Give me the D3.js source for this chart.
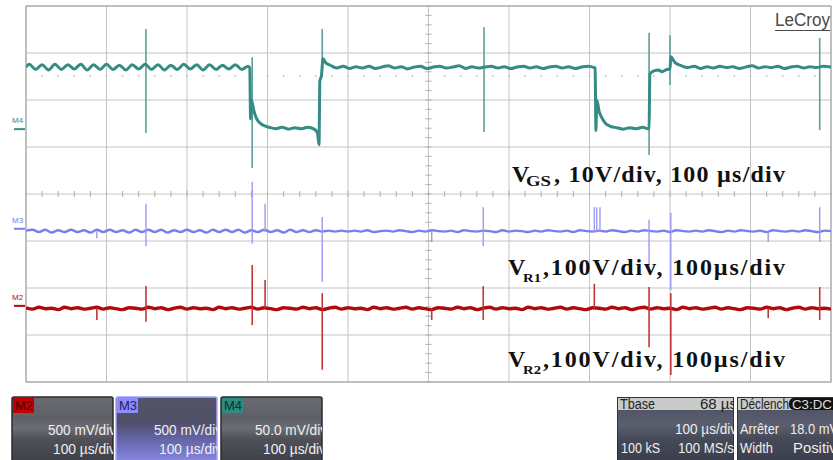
<!DOCTYPE html>
<html>
<head>
<meta charset="utf-8">
<script src="https://cdn.jsdelivr.net/npm/d3@7"></script>
<style>
  body { margin: 0; background: #fff; }
  svg { display: block; }
</style>
</head>
<body>
<div id="chart"></div>
<script>
// screen: 10 x 100 µs horizontally, 8 divisions vertically
const timeRange = [0, 1000];
const divRange = [-4, 4];

// M4 (V_GS) trace, [µs, div]
const m4Trace = [
  [0, 2.70], [4, 2.76], [12, 2.65], [20, 2.75], [28, 2.64], [36, 2.76], [44, 2.65], [52, 2.75],
  [60, 2.66], [68, 2.76], [76, 2.64], [84, 2.75], [92, 2.65], [100, 2.76], [108, 2.65], [116, 2.74],
  [124, 2.64], [132, 2.75], [140, 2.66], [148, 2.76], [156, 2.65], [164, 2.75], [172, 2.64], [180, 2.74],
  [188, 2.65], [196, 2.76], [204, 2.66], [212, 2.75], [220, 2.64], [228, 2.75], [236, 2.65], [244, 2.74],
  [252, 2.66], [260, 2.75], [268, 2.65], [276, 2.72],
  [278, 2.68], [279, 1.60], [280, 2.00], [283, 1.78], [286, 1.62], [290, 1.52], [295, 1.46], [302, 1.42],
  [310, 1.39], [318, 1.42], [326, 1.38], [334, 1.41], [342, 1.39], [350, 1.42], [358, 1.38], [362, 1.30],
  [364, 1.05], [365, 2.40], [367, 2.52], [369, 2.88], [372, 2.80], [378, 2.74], [386, 2.68],
  [394, 2.72], [402, 2.67], [410, 2.71], [418, 2.68], [426, 2.72], [434, 2.67], [442, 2.70], [450, 2.73],
  [458, 2.68], [466, 2.71], [474, 2.66], [482, 2.70], [490, 2.72], [498, 2.67], [506, 2.70], [514, 2.72],
  [522, 2.68], [530, 2.70], [538, 2.73], [546, 2.67], [554, 2.71], [562, 2.68], [570, 2.70], [578, 2.72],
  [586, 2.68], [594, 2.71], [602, 2.67], [610, 2.70], [618, 2.72], [626, 2.68], [634, 2.71], [642, 2.67],
  [650, 2.70], [658, 2.72], [666, 2.68], [674, 2.71], [682, 2.67], [690, 2.70], [698, 2.72], [706, 2.69],
  [707, 2.68], [708, 1.35], [709, 2.00], [712, 1.76], [716, 1.60], [720, 1.50], [726, 1.44], [734, 1.41],
  [742, 1.38], [750, 1.41], [758, 1.39], [766, 1.42], [772, 1.39],
  [774, 1.40], [775, 2.55], [780, 2.62], [786, 2.64], [790, 2.60], [796, 2.65], [800, 2.66], [801, 2.92],
  [806, 2.80], [814, 2.73], [822, 2.69], [830, 2.72], [838, 2.67], [846, 2.71], [854, 2.68], [862, 2.72],
  [870, 2.69], [878, 2.71], [886, 2.67], [894, 2.70], [902, 2.73], [910, 2.68], [918, 2.71], [926, 2.69],
  [934, 2.72], [942, 2.67], [950, 2.70], [958, 2.72], [966, 2.68], [974, 2.71], [982, 2.69], [990, 2.72],
  [1000, 2.70]
];
// spikes [µs, top div, bottom div]
const m4Spikes = [
  [149, 3.51, 1.30], [281, 2.91, 0.55], [368, 3.51, 2.50], [569, 3.55, 1.32],
  [774, 3.43, 0.83], [800, 3.38, 2.32], [986, 3.32, 1.36]
];

// M3 (V_R1) and M2 (V_R2) sampled every 8 µs
const sampleStep = 8;
const m3Values = [
  -0.78, -0.76, -0.81, -0.76, -0.82, -0.77, -0.81, -0.76, -0.81, -0.77,
  -0.82, -0.76, -0.81, -0.76, -0.81, -0.77, -0.82, -0.76, -0.81, -0.76,
  -0.81, -0.76, -0.82, -0.77, -0.81, -0.76, -0.81, -0.77, -0.82, -0.76,
  -0.81, -0.76, -0.81, -0.76, -0.82, -0.77, -0.81, -0.76, -0.81, -0.77,
  -0.82, -0.76, -0.81, -0.77, -0.81, -0.77, -0.80, -0.78, -0.80, -0.78,
  -0.80,
  -0.78, -0.80, -0.77, -0.81, -0.79, -0.78, -0.80, -0.77, -0.79, -0.81,
  -0.78, -0.80, -0.77, -0.79, -0.80, -0.78, -0.81, -0.77, -0.79, -0.80,
  -0.78, -0.79, -0.81, -0.77, -0.80, -0.78, -0.79, -0.81, -0.78, -0.80,
  -0.77, -0.79, -0.80, -0.78, -0.81, -0.77, -0.79, -0.80, -0.78, -0.80,
  -0.77, -0.79, -0.81, -0.78, -0.80, -0.77, -0.79, -0.80, -0.78, -0.81,
  -0.77, -0.79, -0.80, -0.78, -0.80, -0.77, -0.79, -0.81, -0.78, -0.80,
  -0.77, -0.79, -0.80, -0.78, -0.81, -0.77, -0.79, -0.80, -0.78, -0.80,
  -0.77, -0.79, -0.81, -0.78, -0.79
];
const m3Spikes = [
  [88, -0.79, -0.94], [149, -0.21, -1.11], [281, 0.26, -1.06], [297, -0.21, -0.81],
  [368, -0.49, -1.87], [504, -0.79, -1.02], [568, -0.28, -1.11], [706, -0.28, -0.81],
  [709, -0.28, -0.81], [713, -0.28, -0.81], [774, -0.55, -1.62], [801, -0.40, -2.04],
  [922, -0.79, -1.02], [986, -0.28, -1.02]
];
const m2Values = [
  -2.42, -2.45, -2.41, -2.44, -2.43, -2.46, -2.41, -2.44, -2.42, -2.45,
  -2.43, -2.41, -2.45, -2.42, -2.44, -2.46, -2.42, -2.43, -2.45, -2.41,
  -2.44, -2.42, -2.46, -2.43, -2.41, -2.45, -2.42, -2.44, -2.43, -2.46,
  -2.41, -2.44, -2.42, -2.45, -2.43, -2.41, -2.45, -2.42, -2.44, -2.46,
  -2.42, -2.43, -2.45, -2.41, -2.44, -2.42, -2.46, -2.43, -2.41, -2.45,
  -2.42, -2.44, -2.43, -2.46, -2.41, -2.44, -2.42, -2.45, -2.43, -2.41,
  -2.45, -2.42, -2.44, -2.46, -2.42, -2.43, -2.45, -2.41, -2.44, -2.42,
  -2.46, -2.43, -2.41, -2.45, -2.42, -2.44, -2.43, -2.46, -2.41, -2.44,
  -2.42, -2.45, -2.43, -2.41, -2.45, -2.42, -2.44, -2.46, -2.42, -2.43,
  -2.45, -2.41, -2.44, -2.42, -2.46, -2.43, -2.41, -2.45, -2.42, -2.44,
  -2.43, -2.46, -2.41, -2.44, -2.42, -2.45, -2.43, -2.41, -2.45, -2.42,
  -2.44, -2.46, -2.42, -2.43, -2.45, -2.41, -2.44, -2.42, -2.46, -2.43,
  -2.41, -2.45, -2.42, -2.44, -2.43, -2.45
];
const m2Spikes = [
  [88, -2.43, -2.68], [149, -1.96, -2.72], [281, -1.51, -2.79], [297, -1.83, -2.43],
  [368, -2.11, -3.74], [504, -2.43, -2.68], [568, -1.96, -2.68], [706, -1.91, -2.43],
  [774, -1.98, -3.26], [801, -2.11, -3.85], [922, -2.43, -2.64], [986, -1.98, -2.68]
];

// channel markers on the left edge (div)
const markerNames = ['M4', 'M3', 'M2'];
const markerLevels = [1.38, -0.74, -2.38];
// trigger level dotted line (div)
const triggerLevel = 2.51;

// annotations
const noteMain = ['V', 'V', 'V'];
const noteSub = ['GS', 'R1', 'R2'];
const noteRest = [', 10V/div,  100 µs/div', ',100V/div, 100µs/div', ',100V/div, 100µs/div'];

// descriptor boxes
const chanNames = ['M2', 'M3', 'M4'];
const chanScale = ['500 mV/div', '500 mV/div', '50.0 mV/div'];
const chanTime = ['100 µs/div', '100 µs/div', '100 µs/div'];
const tbaseRows = ['Tbase', '68 µs', '100 µs/div', '100 kS', '100 MS/s'];
const trigRows = ['Déclench', 'C3:DC', 'Arrêter', '18.0 mV', 'Width', 'Positive'];

const W = 833, H = 460;
const plot = { left: 26, right: 831, top: 6, bottom: 382 };
const colors = { m4: '#358c85', m4s: '#5d9f9a', m3: '#7c7cf0', m3s: '#9a9af4', m2: '#b00a0a', m2s: '#c03636' };

const svg = d3.select('#chart').append('svg').attr('width', W).attr('height', H);
svg.append('rect').attr('width', W).attr('height', H).attr('fill', '#fff');

const x = d3.scaleLinear().domain(timeRange).range([plot.left, plot.right]);
const y = d3.scaleLinear().domain(divRange).range([plot.bottom, plot.top]);

const defs = svg.append('defs');
defs.append('clipPath').attr('id', 'plotClip').append('rect')
  .attr('x', plot.left).attr('y', plot.top)
  .attr('width', plot.right - plot.left).attr('height', plot.bottom - plot.top);

function grad(id, stops) {
  const g = defs.append('linearGradient').attr('id', id)
    .attr('x1', 0).attr('y1', 0).attr('x2', 0).attr('y2', 1);
  stops.forEach(s => g.append('stop').attr('offset', s[0]).attr('stop-color', s[1]));
}
grad('boxGrad', [[0, '#6a6a72'], [0.3, '#5f5f67'], [0.45, '#6c6c74'], [0.6, '#505058'], [1, '#3c3c44']]);
grad('boxGradSel', [[0, '#55556a'], [0.35, '#4e4e66'], [0.6, '#6464a8'], [1, '#9090ee']]);
grad('infoGrad', [[0, '#4a4e5e'], [0.4, '#5a5e6e'], [0.6, '#464a58'], [1, '#383b48']]);

// grid
const grid = svg.append('g');
grid.selectAll('.vg').data(d3.range(0, 1001, 100)).join('line')
  .attr('x1', d => x(d)).attr('x2', d => x(d))
  .attr('y1', plot.top).attr('y2', plot.bottom)
  .attr('stroke', '#c4c4c4').attr('stroke-width', 1);
grid.selectAll('.hg').data(d3.range(-4, 4.01, 1)).join('line')
  .attr('x1', plot.left).attr('x2', plot.right)
  .attr('y1', d => y(d)).attr('y2', d => y(d))
  .attr('stroke', '#c4c4c4').attr('stroke-width', 1);
grid.append('rect')
  .attr('x', plot.left).attr('y', plot.top)
  .attr('width', plot.right - plot.left).attr('height', plot.bottom - plot.top)
  .attr('fill', 'none').attr('stroke', '#a8a8a8').attr('stroke-width', 1.2);

// minor ticks on centre axes
grid.selectAll('.tx').data(d3.range(0, 1001, 20)).join('line')
  .attr('x1', d => x(d)).attr('x2', d => x(d))
  .attr('y1', y(0) - 3).attr('y2', y(0) + 3)
  .attr('stroke', '#b0b0b0');
grid.selectAll('.ty').data(d3.range(-4, 4.01, 0.2)).join('line')
  .attr('x1', x(500) - 3).attr('x2', x(500) + 3)
  .attr('y1', d => y(d)).attr('y2', d => y(d))
  .attr('stroke', '#b0b0b0');

// trigger level dots
grid.selectAll('.dot').data(d3.range(20, 1000, 20)).join('rect')
  .attr('x', d => x(d) - 0.75).attr('y', y(triggerLevel) - 0.75)
  .attr('width', 1.5).attr('height', 1.5).attr('fill', '#b8b8b8');

// traces
const traces = svg.append('g').attr('clip-path', 'url(#plotClip)');
const line = d3.line().x(d => x(d[0])).y(d => y(d[1])).curve(d3.curveMonotoneX);
const sampled = vals => vals.map((v, i) => [i * sampleStep, v]);

function spikes(data, color, w) {
  traces.append('g').selectAll('line').data(data).join('line')
    .attr('x1', d => x(d[0])).attr('x2', d => x(d[0]))
    .attr('y1', d => y(d[1])).attr('y2', d => y(d[2]))
    .attr('stroke', color).attr('stroke-width', w);
}

traces.append('path').datum(sampled(m2Values)).attr('d', line)
  .attr('fill', 'none').attr('stroke', colors.m2).attr('stroke-width', 3.4).attr('stroke-linejoin', 'round');
spikes(m2Spikes, colors.m2s, 1.6);

traces.append('path').datum(sampled(m3Values)).attr('d', line)
  .attr('fill', 'none').attr('stroke', colors.m3).attr('stroke-width', 2.4).attr('stroke-linejoin', 'round');
spikes(m3Spikes, colors.m3s, 1.4);

spikes(m4Spikes, colors.m4s, 1.6);
traces.append('path').datum(m4Trace).attr('d', line)
  .attr('fill', 'none').attr('stroke', colors.m4).attr('stroke-width', 3).attr('stroke-linejoin', 'round');

// channel markers
const markColors = [colors.m4, colors.m3, colors.m2];
const marks = svg.append('g');
markerNames.forEach((name, i) => {
  const yy = y(markerLevels[i]);
  marks.append('line').attr('x1', 14).attr('x2', 25).attr('y1', yy).attr('y2', yy)
    .attr('stroke', markColors[i]).attr('stroke-width', 2);
  marks.append('text').attr('x', 12).attr('y', yy - 6).text(name)
    .attr('font-family', 'Liberation Sans Narrow, Liberation Sans, sans-serif')
    .attr('font-size', 8).attr('fill', markColors[i]);
});

// LeCroy logo
svg.append('text').attr('x', 775).attr('y', 26).text('LeCroy')
  .attr('font-family', 'Liberation Sans Narrow, Liberation Sans, sans-serif')
  .attr('font-size', 18).attr('fill', '#4a4a4a')
  .attr('textLength', 55).attr('lengthAdjust', 'spacingAndGlyphs');
svg.append('line').attr('x1', 775).attr('x2', 830).attr('y1', 30.5).attr('y2', 30.5)
  .attr('stroke', '#4a4a4a').attr('stroke-width', 1.2);

// annotations
const noteLayout = [
  { x: 512, sx: 526, sw: 25, rx: 554, rw: 231, y: 182, sy: 186, ss: 14 },
  { x: 508, sx: 523, sw: 18, rx: 543, rw: 242, y: 275, sy: 282, ss: 12 },
  { x: 508, sx: 523, sw: 18, rx: 543, rw: 242, y: 367, sy: 374, ss: 12 }
];
const notes = svg.append('g').attr('font-family', 'Liberation Serif, Times New Roman, serif')
  .attr('font-weight', 'bold').attr('fill', '#111');
noteLayout.forEach((p, i) => {
  notes.append('text').attr('x', p.x).attr('y', p.y).attr('font-size', 24).text(noteMain[i]);
  notes.append('text').attr('x', p.sx).attr('y', p.sy).attr('font-size', p.ss).text(noteSub[i])
    .attr('textLength', p.sw).attr('lengthAdjust', 'spacingAndGlyphs');
  notes.append('text').attr('x', p.rx).attr('y', p.y).attr('font-size', 24).text(noteRest[i])
    .attr('textLength', p.rw).attr('lengthAdjust', 'spacing');
});

// channel descriptor boxes
const boxFont = 'Liberation Sans Narrow, Liberation Sans, sans-serif';
const tagFill = ['#c00000', '#8c8cff', '#2e8b80'];
const tagText = ['#4a0000', '#1e1e5a', '#0c302c'];
const boxX = [12, 116, 221];
const scaleStart = [48, 154, 255], scaleLen = [68, 68, 72];
const timeStart = [53, 159, 263], timeLen = [63, 63, 63];
chanNames.forEach((name, i) => {
  const bx = boxX[i], bw = 101, by = 397;
  const cid = 'boxClip' + i;
  defs.append('clipPath').attr('id', cid).append('rect')
    .attr('x', bx).attr('y', by).attr('width', bw).attr('height', 70);
  const g = svg.append('g');
  g.append('rect').attr('x', bx).attr('y', by).attr('width', bw).attr('height', 70)
    .attr('rx', 2).attr('fill', i === 1 ? 'url(#boxGradSel)' : 'url(#boxGrad)')
    .attr('stroke', i === 1 ? '#a4a4ff' : '#2a2a30').attr('stroke-width', 1.5);
  g.append('rect').attr('x', bx + 1).attr('y', by + 1).attr('width', 21).attr('height', 15)
    .attr('fill', tagFill[i]);
  g.append('text').attr('x', bx + 3).attr('y', by + 13).text(name)
    .attr('font-family', boxFont).attr('font-size', 13).attr('fill', tagText[i]);
  const t = g.append('g').attr('clip-path', `url(#${cid})`)
    .attr('font-family', boxFont).attr('font-size', 14).attr('fill', '#f0f0f0');
  t.append('text').attr('x', scaleStart[i]).attr('y', 435).text(chanScale[i])
    .attr('textLength', scaleLen[i]).attr('lengthAdjust', 'spacingAndGlyphs');
  t.append('text').attr('x', timeStart[i]).attr('y', 454).text(chanTime[i])
    .attr('textLength', timeLen[i]).attr('lengthAdjust', 'spacingAndGlyphs');
});

// timebase and trigger boxes
function infoBox(bx, bw) {
  const cid = 'info' + bx;
  defs.append('clipPath').attr('id', cid).append('rect')
    .attr('x', bx).attr('y', 397).attr('width', bw).attr('height', 70);
  const g = svg.append('g').attr('clip-path', `url(#${cid})`)
    .attr('font-family', boxFont).attr('font-size', 14);
  g.append('rect').attr('x', bx).attr('y', 397).attr('width', bw).attr('height', 70)
    .attr('fill', 'url(#infoGrad)').attr('stroke', '#2a2a30').attr('stroke-width', 1.5);
  g.append('rect').attr('x', bx + 1).attr('y', 398).attr('width', bw - 2).attr('height', 12)
    .attr('fill', '#cacaca');
  return g;
}
function put(g, s, x0, y0, len, fill, size) {
  g.append('text').attr('x', x0).attr('y', y0).text(s).attr('fill', fill)
    .attr('font-size', size || 14)
    .attr('textLength', len).attr('lengthAdjust', 'spacingAndGlyphs');
}
const tb = infoBox(617, 117);
put(tb, tbaseRows[0], 620, 409, 35, '#222');
put(tb, tbaseRows[1], 700, 409, 37, '#222');
put(tb, tbaseRows[2], 675, 434, 62, '#eee');
put(tb, tbaseRows[3], 621, 453, 39, '#eee');
put(tb, tbaseRows[4], 678, 453, 56, '#eee');

const tr = infoBox(737, 100);
put(tr, trigRows[0], 740, 409, 49, '#222');
tr.append('rect').attr('x', 789).attr('y', 398).attr('width', 50).attr('height', 12).attr('rx', 5).attr('fill', '#111');
put(tr, trigRows[1], 792, 408.5, 40, '#ddd', 12);
put(tr, trigRows[2], 740, 434, 39, '#eee');
put(tr, trigRows[3], 790, 434, 48, '#eee');
put(tr, trigRows[4], 740, 453, 33, '#eee');
put(tr, trigRows[5], 793, 453, 52, '#eee');
</script>
</body>
</html>
